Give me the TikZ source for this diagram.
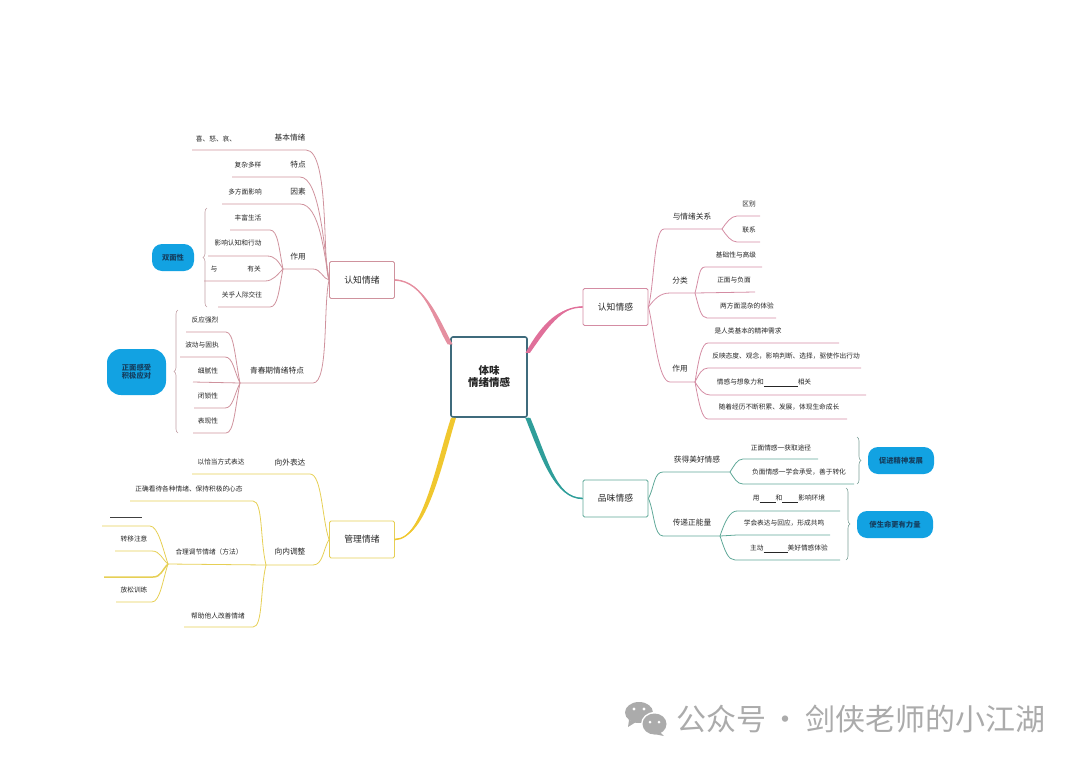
\documentclass[tikz,border=0pt]{standalone}
\usepackage{fontspec}
\setmainfont{Noto Sans CJK SC}
\usetikzlibrary{decorations.pathreplacing}

\definecolor{rosel}{HTML}{CF929D}
\definecolor{rosem}{HTML}{E58FA0}
\definecolor{pinkl}{HTML}{D48CA3}
\definecolor{pinkm}{HTML}{E0709A}
\definecolor{yell}{HTML}{E6CF55}
\definecolor{yelm}{HTML}{F0C72E}
\definecolor{teall}{HTML}{5FA898}
\definecolor{tealm}{HTML}{2F9E9A}
\definecolor{rootc}{HTML}{3F6B7C}
\definecolor{goalc}{HTML}{12A2E2}
\definecolor{goalt}{HTML}{143F60}
\definecolor{inkc}{HTML}{262626}
\definecolor{markc}{HTML}{ABABAB}

\tikzset{
	leaf/.style={text=inkc, font=\fontsize{6.7}{7.5}\selectfont, inner sep=0pt},
	topic/.style={text=inkc, font=\fontsize{7.7}{9}\selectfont, inner sep=0pt},
	mainbox/.style={draw, rounded corners=1.5pt, line width=0.9pt, fill=white, text=inkc, minimum width=65pt, minimum height=37pt, font=\fontsize{8.8}{10}\selectfont, inner sep=0pt},
	goal/.style={fill=goalc, text=goalt, rounded corners=10pt, align=center, font=\bfseries\fontsize{7.3}{8}\selectfont, inner sep=0pt},
	brace/.style={decorate, decoration={brace, amplitude=4pt}, line width=0.6pt},
	line/.style={line width=0.8pt}
}

\begin{document}
\begin{tikzpicture}[x=1pt, y=-1pt]
	\useasboundingbox (0,0) rectangle (1080,763);

	% centre and the four main boxes
	\node [draw=rootc, fill=white, rounded corners=2pt, line width=1.6pt, minimum width=76pt, minimum height=80pt, align=center, text=inkc, font=\bfseries\fontsize{10.5}{12}\selectfont, inner sep=0pt] (root) at (489,377) {体味\\情绪情感};
	\node [mainbox, draw=rosel] (feel) at (362,280) {认知情绪};
	\node [mainbox, draw=pinkl] (sense) at (615.5,307) {认知情感};
	\node [mainbox, draw=teall] (taste) at (615.5,498.5) {品味情感};
	\node [mainbox, draw=yell] (manage) at (362,539.5) {管理情绪};

	\draw [rosem, line width=1.4pt] (root.140) .. controls (437,322) and (425,281) .. (feel.east);
	\fill [rosem] ([xshift=-2.5pt]root.140) .. controls (434,322) and (424,279.3) .. ([yshift=-.7pt]feel.east) -- ([yshift=.7pt]feel.east) .. controls (426,282.5) and (440,322) .. ([xshift=2.5pt]root.140) -- cycle;
	\draw [pinkm, line width=1.4pt] (root.32) .. controls (545,325) and (560,307) .. (sense.west);
	\fill [pinkm] ([xshift=-2.2pt]root.32) .. controls (542,323) and (560,306) .. ([yshift=-.7pt]sense.west) -- ([yshift=.7pt]sense.west) .. controls (561,308) and (548,327) .. ([xshift=2.2pt]root.32) -- cycle;
	\draw [yelm, line width=1.4pt] (root.229) .. controls (440,460) and (425,539) .. (manage.east);
	\fill [yelm] ([xshift=-2.5pt]root.229) .. controls (437,460) and (423,538) .. ([yshift=-.7pt]manage.east) -- ([yshift=.7pt]manage.east) .. controls (427,540) and (443,460) .. ([xshift=2.5pt]root.229) -- cycle;
	\draw [tealm, line width=1.4pt] (root.south east) .. controls (545,460) and (555,498) .. (taste.west);
	\fill [tealm] ([xshift=-2.5pt]root.south east) .. controls (542,460) and (555,499) .. ([yshift=.7pt]taste.west) -- ([yshift=-.7pt]taste.west) .. controls (556,497) and (548,460) .. ([xshift=2.5pt]root.south east) -- cycle;

	% upper left
	\node [topic] (basicT) at (290,138) {基本情绪};
	\node [leaf] (basicL) at (216,139) {喜、怒、哀、};
	\node [topic] (traitT) at (298,165) {特点};
	\node [leaf] (traitL) at (248,165) {复杂多样};
	\node [topic] (causeT) at (298,192) {因素};
	\node [leaf] (causeL) at (245,192) {多方面影响};
	\node [topic] (roleT) at (298,257) {作用};
	\node [leaf] (richL) at (248,218) {丰富生活};
	\node [leaf] (actL) at (238,243) {影响认知和行动};
	\node [leaf] (withL) at (214,269) {与};
	\node [leaf] (withR) at (254,269) {有关};
	\node [leaf] (socialL) at (242,295) {关乎人际交往};
	\node [topic] (teenT) at (277,371) {青春期情绪特点};
	\node [leaf] (strongL) at (205,320) {反应强烈};
	\node [leaf] (waveL) at (202,345) {波动与固执};
	\node [leaf] (fineL) at (208,371) {细腻性};
	\node [leaf] (lockL) at (208,396) {闭锁性};
	\node [leaf] (showL) at (208,421) {表现性};
	\node [goal, minimum width=42pt, minimum height=27pt] (twoG) at (173,257.5) {双面性};
	\node [goal, minimum width=59pt, minimum height=46pt, rounded corners=14pt] (faceG) at (136.5,372) {正面感受\\积极应对};

	\coordinate (basicA) at (306,150); \coordinate (basicB) at (192,150);
	\coordinate (traitA) at (300,177); \coordinate (traitB) at (232,177);
	\coordinate (causeA) at (300,204); \coordinate (causeB) at (222,204);
	\coordinate (roleA) at (313,269); \coordinate (roleB) at (283,269);
	\coordinate (richA) at (270,230); \coordinate (richB) at (230,230);
	\coordinate (actA) at (267,256); \coordinate (actB) at (208,256);
	\coordinate (withA) at (265,281); \coordinate (withB) at (204,281);
	\coordinate (socialA) at (270,307); \coordinate (socialB) at (218,307);
	\coordinate (teenA) at (313,383); \coordinate (teenB) at (240,383);
	\coordinate (strongA) at (226,332); \coordinate (strongB) at (186,332);
	\coordinate (waveA) at (225,357); \coordinate (waveB) at (180,357);
	\coordinate (fineB) at (193,382);
	\coordinate (lockA) at (225,408); \coordinate (lockB) at (194,408);
	\coordinate (showA) at (226,433); \coordinate (showB) at (193,433);
	\coordinate (twoA) at (207,307); \coordinate (twoB) at (207,208);
	\coordinate (faceA) at (178,433); \coordinate (faceB) at (178,310);

	\begin{scope}[line, rosel]
	\draw (feel.west) .. controls +(-7,-15) and +(24,0) .. (basicA) -- (basicB);
	\draw (feel.west) .. controls +(-5,-30) and +(20,0) .. (traitA) -- (traitB);
	\draw (feel.west) .. controls +(-5,-25) and +(20,0) .. (causeA) -- (causeB);
	\draw (feel.west) .. controls +(-6,-1) and +(8,0) .. (roleA) -- (roleB);
	\draw (roleB) .. controls +(-4,-20) and +(8,0) .. (richA) -- (richB);
	\draw (roleB) .. controls +(-5,-8) and +(8,0) .. (actA) -- (actB);
	\draw (roleB) .. controls +(-6,6) and +(8,0) .. (withA) -- (withB);
	\draw (roleB) .. controls +(-4,20) and +(8,0) .. (socialA) -- (socialB);
	\draw (feel.west) .. controls +(-6,25) and +(16,0) .. (teenA) -- (teenB);
	\draw (teenB) .. controls +(-5,-25) and +(8,0) .. (strongA) -- (strongB);
	\draw (teenB) .. controls +(-6,-12) and +(8,0) .. (waveA) -- (waveB);
	\draw (teenB) -- (fineB);
	\draw (teenB) .. controls +(-6,12) and +(8,0) .. (lockA) -- (lockB);
	\draw (teenB) .. controls +(-5,25) and +(8,0) .. (showA) -- (showB);
	\end{scope}
	\draw [brace, rosel!80!black!70] (twoA) -- (twoB);
	\draw [brace, rosel!80!black!70] (faceA) -- (faceB);

	% lower left
	\node [topic] (outT) at (290,463) {向外表达};
	\node [leaf] (outL) at (221,462) {以恰当方式表达};
	\node [topic] (inT) at (290,552) {向内调整};
	\node [leaf] (viewL) at (189,489) {正确看待各种情绪、保持积极的心态};
	\node [leaf] (wayL) at (209,552) {合理调节情绪（方法）};
	\node [leaf] (moveL) at (134,539) {转移注意};
	\node [leaf] (relaxL) at (134,590) {放松训练};
	\node [leaf] (helpL) at (218,616) {帮助他人改善情绪};

	\coordinate (outA) at (310,474); \coordinate (outB) at (192,474);
	\coordinate (inA) at (313,565); \coordinate (inB) at (266,565);
	\coordinate (viewA) at (253,501); \coordinate (viewB) at (130,501);
	\coordinate (wayB) at (168,564);
	\coordinate (helpA) at (253,627); \coordinate (helpB) at (184,627);
	\coordinate (blankA) at (110,517); \coordinate (blankB) at (142,517);
	\coordinate (moveA) at (150,526); \coordinate (moveB) at (102,526);
	\coordinate (emptyA) at (152,551); \coordinate (emptyB) at (115,551);
	\coordinate (heavyA) at (153,577); \coordinate (heavyB) at (104,577);
	\coordinate (relaxA) at (152,602); \coordinate (relaxB) at (116,602);

	\begin{scope}[line, yell]
	\draw (manage.west) .. controls +(-7,-20) and +(12,0) .. (outA) -- (outB);
	\draw (manage.west) .. controls +(-6,10) and +(10,0) .. (inA) -- (inB);
	\draw (inB) .. controls +(-6,-25) and +(10,0) .. (viewA) -- (viewB);
	\draw (inB) -- (wayB);
	\draw (inB) .. controls +(-6,25) and +(10,0) .. (helpA) -- (helpB);
	\draw (wayB) .. controls +(-5,-15) and +(8,0) .. (moveA) -- (moveB);
	\draw (wayB) .. controls +(-6,-5) and +(8,0) .. (emptyA) -- (emptyB);
	\draw [line width=1.5pt] (wayB) .. controls +(-6,6) and +(8,0) .. (heavyA) -- (heavyB);
	\draw (wayB) .. controls +(-5,15) and +(8,0) .. (relaxA) -- (relaxB);
	\end{scope}
	\draw [black!75, line width=0.7pt] (blankA) -- (blankB);

	% upper right
	\node [topic] (linkT) at (692,217) {与情绪关系};
	\node [leaf] (diffL) at (749,204) {区别};
	\node [leaf] (tieL) at (749,230) {联系};
	\node [topic] (kindT) at (680,281) {分类};
	\node [leaf] (baseL) at (736,255) {基础性与高级};
	\node [leaf] (signL) at (734,280) {正面与负面};
	\node [leaf] (mixL) at (747,306) {两方面混杂的体验};
	\node [topic] (useT) at (680,369) {作用};
	\node [leaf] (needL) at (748,331) {是人类基本的精神需求};
	\node [leaf] (viewR) at (786,356) {反映态度、观念，影响判断、选择，驱使作出行动};
	\node [leaf] (fancyL) at (764,383) {情感与想象力和\underline{\hspace{34pt}}相关};
	\node [leaf] (growL) at (779,407) {随着经历不断积累、发展，体现生命成长};

	\coordinate (linkA) at (664,229); \coordinate (linkB) at (722,229);
	\coordinate (diffA) at (737,216); \coordinate (diffB) at (760,216);
	\coordinate (tieA) at (737,242); \coordinate (tieB) at (760,242);
	\coordinate (kindA) at (670,293); \coordinate (kindB) at (695,293);
	\coordinate (baseA) at (705,267); \coordinate (baseB) at (762,267);
	\coordinate (signB) at (755,292);
	\coordinate (mixA) at (707,318); \coordinate (mixB) at (776,318);
	\coordinate (useA) at (670,382); \coordinate (useB) at (695,382);
	\coordinate (needA) at (708,343); \coordinate (needB) at (839,343);
	\coordinate (viewC) at (708,368); \coordinate (viewD) at (861,368);
	\coordinate (fancyA) at (710,395); \coordinate (fancyB) at (866,395);
	\coordinate (growA) at (708,419); \coordinate (growB) at (847,419);

	\begin{scope}[line, pinkl]
	\draw (sense.east) .. controls +(6,-25) and +(-10,0) .. (linkA) -- (linkB);
	\draw (linkB) .. controls +(4,-6) and +(-6,0) .. (diffA) -- (diffB);
	\draw (linkB) .. controls +(4,6) and +(-6,0) .. (tieA) -- (tieB);
	\draw (sense.east) .. controls +(6,-8) and +(-10,0) .. (kindA) -- (kindB);
	\draw (kindB) .. controls +(4,-15) and +(-6,0) .. (baseA) -- (baseB);
	\draw (kindB) -- (signB);
	\draw (kindB) .. controls +(4,15) and +(-6,0) .. (mixA) -- (mixB);
	\draw (sense.east) .. controls +(6,25) and +(-12,0) .. (useA) -- (useB);
	\draw (useB) .. controls +(4,-25) and +(-6,0) .. (needA) -- (needB);
	\draw (useB) .. controls +(4,-8) and +(-6,0) .. (viewC) -- (viewD);
	\draw (useB) .. controls +(5,8) and +(-6,0) .. (fancyA) -- (fancyB);
	\draw (useB) .. controls +(4,22) and +(-6,0) .. (growA) -- (growB);
	\end{scope}

	% lower right
	\node [topic] (gainT) at (697,460) {获得美好情感};
	\node [leaf] (goodL) at (781,448) {正面情感一获取途径};
	\node [leaf] (badL) at (799,472) {负面情感一学会承受，善于转化};
	\node [topic] (passT) at (692,523) {传递正能量};
	\node [leaf] (envL) at (789,499) {用\underline{\hspace{16pt}}和\underline{\hspace{16pt}}影响环境};
	\node [leaf] (echoL) at (784,523) {学会表达与回应，形成共鸣};
	\node [leaf] (openL) at (789,549) {主动\underline{\hspace{24pt}}美好情感体验};
	\node [goal, minimum width=66pt, minimum height=27pt] (growG) at (901,460.5) {促进精神发展};
	\node [goal, minimum width=76pt, minimum height=27pt] (lifeG) at (895,524.5) {使生命更有力量};

	\coordinate (gainA) at (663,472); \coordinate (gainB) at (730,472);
	\coordinate (goodA) at (743,459); \coordinate (goodB) at (818,459);
	\coordinate (badA) at (743,484); \coordinate (badB) at (854,484);
	\coordinate (passA) at (663,536); \coordinate (passB) at (720,536);
	\coordinate (envA) at (737,511); \coordinate (envB) at (840,511);
	\coordinate (echoA) at (737,535); \coordinate (echoB) at (830,535);
	\coordinate (openA) at (735,560); \coordinate (openB) at (840,560);
	\coordinate (growC) at (857,437); \coordinate (growD) at (857,484);
	\coordinate (lifeC) at (846,488); \coordinate (lifeD) at (846,560);

	\begin{scope}[line, teall]
	\draw (taste.east) .. controls +(6,-12) and +(-9,0) .. (gainA) -- (gainB);
	\draw (gainB) .. controls +(4,-6) and +(-6,0) .. (goodA) -- (goodB);
	\draw (gainB) .. controls +(4,6) and +(-6,0) .. (badA) -- (badB);
	\draw (taste.east) .. controls +(6,14) and +(-9,0) .. (passA) -- (passB);
	\draw (passB) .. controls +(5,-15) and +(-7,0) .. (envA) -- (envB);
	\draw (passB) -- (echoA) -- (echoB);
	\draw (passB) .. controls +(5,15) and +(-7,0) .. (openA) -- (openB);
	\end{scope}
	\draw [brace, teall!70!black!70] (growC) -- (growD);
	\draw [brace, teall!70!black!70] (lifeC) -- (lifeD);

	% watermark
	\fill [markc] (639,712.5) ellipse [x radius=14, y radius=10.5];
	\fill [markc] (629,720) -- (628,727) -- (636,722) -- cycle;
	\fill [white] (654.5,724) ellipse [x radius=13.5, y radius=12];
	\fill [markc] (654.5,724) ellipse [x radius=12, y radius=10.5];
	\fill [markc] (660,732) -- (664,736) -- (654,734) -- cycle;
	\fill [white] (634,709) circle [radius=1.7];
	\fill [white] (644,709) circle [radius=1.7];
	\fill [white] (650,722) circle [radius=1.5];
	\fill [white] (659,722) circle [radius=1.5];
	\node [text=markc, font=\fontsize{30}{32}\selectfont, inner sep=0pt, anchor=west] (mark) at (676,719) {公众号\hspace{-2pt} · \hspace{-2pt}剑侠老师的小江湖};
\end{tikzpicture}
\end{document}
